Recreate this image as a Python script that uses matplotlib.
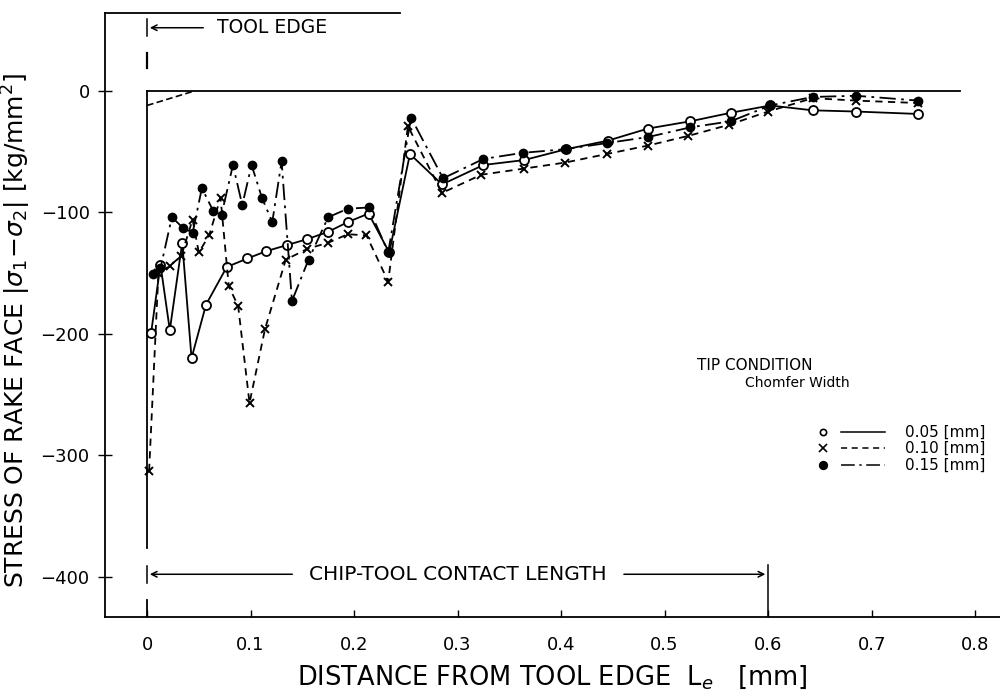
import matplotlib.pyplot as plt
import numpy as np

plt.rcParams['font.family'] = ['DejaVu Sans']

# chamfer width 0.05 mm (open circles, solid line)
x05 = [0.004, 0.013, 0.022, 0.034, 0.043, 0.057, 0.077, 0.097, 0.115, 0.135, 0.155, 0.175, 0.194,
       0.214, 0.234, 0.254, 0.285, 0.325, 0.364, 0.405, 0.445, 0.484, 0.525, 0.564, 0.602, 0.643,
       0.685, 0.745]
y05 = [-199, -143, -197, -125, -220, -176, -145, -138, -132, -127, -122, -116, -108,
       -101, -133, -52, -77, -61, -57, -48, -41, -31, -25, -18, -12, -16,
       -17, -19]

# chamfer width 0.10 mm (x, dashed)
x10 = [0.002, 0.011, 0.022, 0.033, 0.044, 0.050, 0.060, 0.071, 0.079, 0.088, 0.099, 0.114, 0.134,
       0.155, 0.175, 0.194, 0.212, 0.233, 0.252, 0.285, 0.323, 0.364, 0.404, 0.444, 0.484, 0.523,
       0.562, 0.600, 0.643, 0.685, 0.745]
y10 = [-313, -150, -144, -136, -106, -133, -119, -88, -161, -177, -257, -196, -139,
       -130, -125, -118, -119, -157, -29, -84, -69, -64, -59, -52, -45, -37,
       -28, -17, -6, -8, -10]

# chamfer width 0.15 mm (filled dots, dash-dot)
x15 = [0.006, 0.013, 0.024, 0.035, 0.044, 0.053, 0.064, 0.072, 0.083, 0.092, 0.101, 0.111, 0.121,
       0.130, 0.140, 0.156, 0.175, 0.194, 0.214, 0.233, 0.255, 0.286, 0.325, 0.363, 0.404, 0.444,
       0.484, 0.525, 0.564, 0.602, 0.643, 0.685, 0.745]
y15 = [-151, -146, -104, -113, -117, -80, -99, -102, -61, -94, -61, -88, -108,
       -58, -173, -139, -104, -97, -96, -133, -22, -72, -56, -51, -48, -43,
       -38, -30, -25, -12, -5, -4, -8]

legend_labels = ['0.05 [mm]', '0.10 [mm]', '0.15 [mm]']
contact_length = 0.6

fig = plt.figure(figsize=(10, 6.93), dpi=100)
ax = fig.add_axes([0.105, 0.110, 0.895, 0.871])

# reference lines: zero stress line, tool edge line, small chamfer dashed line
ax.plot([0, 0.785], [0, 0], color='black', lw=1.3)
ax.plot([0, 0], [0, -376], color='black', lw=1.3)
ax.plot([0, 0.046], [-12, 0], color='black', lw=1.2, ls=(0, (4, 2)))

ax.plot(x05, y05, color='black', lw=1.3, ls='-', marker='o', ms=6.5,
        mfc='white', mec='black', mew=1.3)
ax.plot(x10, y10, color='black', lw=1.3, ls=(0, (4, 3)), marker='x', ms=6, mew=1.4)
ax.plot(x15, y15, color='black', lw=1.3, ls=(0, (9, 3, 1.5, 3)), marker='o', ms=6,
        mfc='black', mec='black')

ax.set_xlim(-0.0406, 0.824)
ax.set_ylim(-433, 64)
ax.set_xticks([0, 0.1, 0.2, 0.3, 0.4, 0.5, 0.6, 0.7, 0.8])
ax.set_xticklabels(['0', '0.1', '0.2', '0.3', '0.4', '0.5', '0.6', '0.7', '0.8'])
ax.set_yticks([0, -100, -200, -300, -400])
ax.tick_params(axis='x', direction='in', length=5, width=1, labelsize=13, pad=14)
ax.tick_params(axis='y', direction='inout', length=10, width=1, labelsize=13, pad=6)
ax.spines['right'].set_visible(False)
ax.spines['top'].set_visible(False)
ax.spines['left'].set_linewidth(1.3)
ax.spines['bottom'].set_linewidth(1.3)
# partial top frame
ax.plot([0, 0.33], [1, 1], color='black', lw=1.3, transform=ax.transAxes, clip_on=False)

ax.set_xlabel('DISTANCE FROM TOOL EDGE  L$_e$   [mm]', fontsize=18.5, labelpad=6)
ax.set_ylabel('STRESS OF RAKE FACE $|\\sigma_1\\!-\\!\\sigma_2|$ [kg/mm$^2$]', fontsize=18)
ax.yaxis.set_label_coords(-0.08, 0.475)

# tool edge annotation
ax.annotate('', xy=(0, 52), xytext=(0.057, 52),
            arrowprops=dict(arrowstyle='->', color='black', lw=1.1))
ax.plot([0, 0], [52 - 7, 52 + 7], color='black', lw=1.1)
ax.text(0.068, 52, 'TOOL EDGE', fontsize=13.5, va='center', ha='left')
ax.plot([0, 0], [19, 31], color='black', lw=1.6)

# chip-tool contact length annotation
ax.annotate('', xy=(0, -398), xytext=(0.143, -398),
            arrowprops=dict(arrowstyle='->', color='black', lw=1.1))
ax.plot([0, 0], [-398 - 7, -398 + 7], color='black', lw=1.1)
ax.annotate('', xy=(contact_length, -398), xytext=(0.458, -398),
            arrowprops=dict(arrowstyle='->', color='black', lw=1.1))
ax.text(0.300, -398, 'CHIP-TOOL CONTACT LENGTH', fontsize=14.5, va='center', ha='center')
ax.plot([contact_length, contact_length], [-390, -433], color='black', lw=1.1)
ax.plot([0, 0], [-419, -433], color='black', lw=1.3)

# legend block
ax.text(0.661, 0.417, 'TIP CONDITION', transform=ax.transAxes, fontsize=11, va='center')
ax.text(0.715, 0.387, 'Chomfer Width', transform=ax.transAxes, fontsize=10, va='center')
leg_y = [0.306, 0.279, 0.251]
styles = [dict(ls='-', marker='o', mfc='white', ms=4.5),
          dict(ls=(0, (4, 3)), marker='x', mfc='black', ms=6),
          dict(ls=(0, (9, 3, 1.5, 3)), marker='o', mfc='black', ms=5.5)]
for yy, st, lab in zip(leg_y, styles, legend_labels):
    ax.plot([0.802], [yy], transform=ax.transAxes, color='black', marker=st['marker'],
            mfc=st['mfc'], mec='black', ms=st['ms'], mew=1.2, ls='none', clip_on=False)
    ax.plot([0.822, 0.872], [yy, yy], transform=ax.transAxes, color='black', lw=1.1,
            ls=st['ls'])
    ax.text(0.894, yy, lab, transform=ax.transAxes, fontsize=11, va='center', ha='left')

fig.savefig('out.png', dpi=100)
